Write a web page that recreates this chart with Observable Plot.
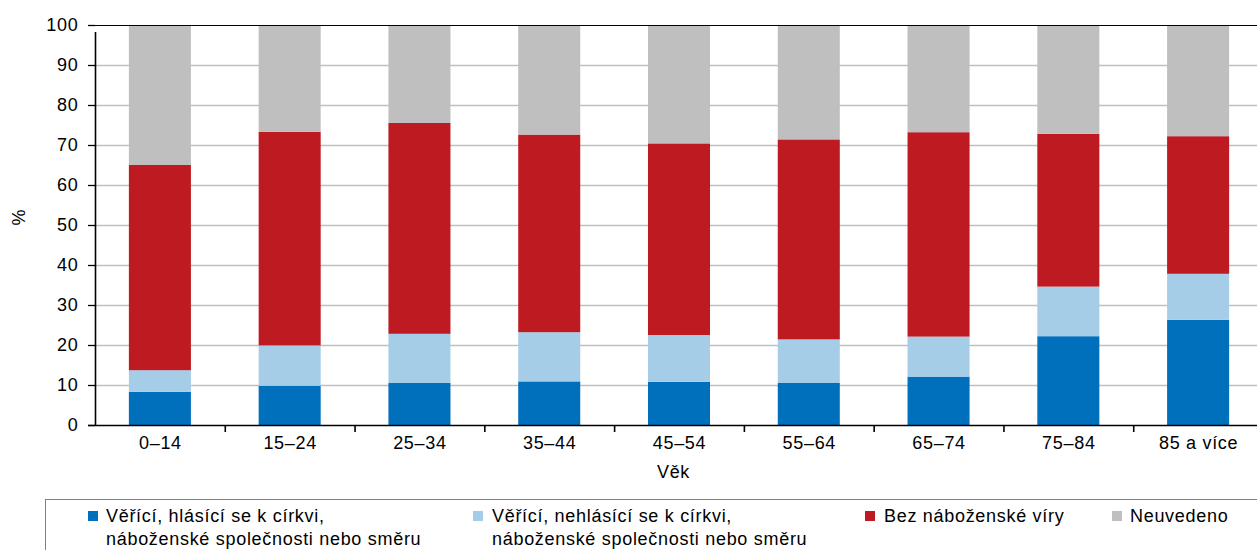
<!DOCTYPE html>
<html>
<head>
<meta charset="utf-8">
<script src="https://cdn.jsdelivr.net/npm/d3@7"></script>
<script src="https://cdn.jsdelivr.net/npm/@observablehq/plot@0.6"></script>
<style>
  html, body { margin: 0; padding: 0; background: #fff; }
  body { width: 1257px; height: 550px; overflow: hidden; font-family: "Liberation Sans", Arial, sans-serif; }
  #chart svg text { letter-spacing: 0.7px; }
  #legend { position: relative; width: 1257px; height: 60px; font-size: 18px; letter-spacing: 0.7px; color: #000; }
  #legend .box { position: absolute; left: 45px; top: 9px; right: -10px; bottom: -10px; border-top: 1px solid #808080; border-left: 1px solid #808080; }
  #legend .sw { position: absolute; top: 21px; width: 10px; height: 10px; }
  #legend .lbl { position: absolute; top: 15px; line-height: 23px; white-space: nowrap; }
</style>
</head>
<body>
<div id="chart"></div>
<div id="legend"><div class="box"></div></div>
<script>
// ---- data ----
const ageGroups = ["0–14", "15–24", "25–34", "35–44", "45–54", "55–64", "65–74", "75–84", "85 a více"];
const seriesNames = [
  "Věřící, hlásící se k církvi,\nnáboženské společnosti nebo směru",
  "Věřící, nehlásící se k církvi,\nnáboženské společnosti nebo směru",
  "Bez náboženské víry",
  "Neuvedeno"
];
const seriesColors = ["#0070bd", "#a6cde8", "#be1a22", "#bfbfbf"];
const believersAffiliated = [8.3, 9.8, 10.5, 10.9, 10.8, 10.5, 12.1, 22.2, 26.3];
const believersUnaffiliated = [5.4, 10.1, 12.3, 12.3, 11.7, 10.9, 10.0, 12.4, 11.5];
const noReligion = [51.3, 53.4, 52.7, 49.4, 47.9, 50.0, 51.1, 38.2, 34.4];
const notStated = [35.0, 26.7, 24.5, 27.4, 29.6, 28.6, 26.8, 27.2, 27.8];
const yTicks = [0, 10, 20, 30, 40, 50, 60, 70, 80, 90, 100];
const xLabel = "Věk";
const yLabel = "%";

const seriesValues = [believersAffiliated, believersUnaffiliated, noReligion, notStated];
const table = [];
seriesValues.forEach((vals, s) => {
  ageGroups.forEach((g, i) => table.push({age: g, series: seriesNames[s], value: vals[i]}));
});

// ---- layout ----
const W = 1257, H = 490;
const mL = 95, mR = 0, mT = 25, mB = 65;
const xRange = [95, 1263];
const padInner = 0.522, padOuter = 0.261;
const step = (xRange[1] - xRange[0]) / (ageGroups.length - padInner + 2 * padOuter);

const chart = Plot.plot({
  width: W,
  height: H,
  marginLeft: mL,
  marginRight: mR,
  marginTop: mT,
  marginBottom: mB,
  style: {fontFamily: "'Liberation Sans', Arial, sans-serif", fontSize: "18px", color: "#000", background: "#fff", overflow: "hidden"},
  x: {type: "band", domain: ageGroups, range: xRange, round: false, paddingInner: padInner, paddingOuter: padOuter, label: null},
  y: {domain: [0, 100], label: null},
  color: {domain: seriesNames, range: seriesColors},
  marks: [
    Plot.ruleY(yTicks.filter(d => d > 0 && d < 100), {stroke: "#c0c0c0", strokeWidth: 1.3}),
    Plot.barY(table, {x: "age", y: "value", fill: "series", order: seriesNames}),
    Plot.ruleY([100], {stroke: "#000", strokeWidth: 1.2}),
    Plot.ruleY([0], {stroke: "#000", strokeWidth: 1.6, insetLeft: -7}),
    Plot.ruleX([ageGroups[0]], {dx: -step / 2, y1: 0, y2: 100, insetBottom: -7, stroke: "#000", strokeWidth: 1.6}),
    Plot.ruleX(ageGroups.slice(1), {dx: -step / 2, y1: 0, y2: 0, insetBottom: -7, stroke: "#000", strokeWidth: 1.6}),
    Plot.axisY({ticks: yTicks, tickSize: 7, tickPadding: 10, tickFormat: d => String(d), label: null, stroke: "#000", strokeWidth: 1.3}),
    Plot.axisX({tickSize: 0, tickPadding: 11, label: null}),
    Plot.text([xLabel], {frameAnchor: "bottom", dy: 52, dx: -3, text: d => d, fontSize: 18}),
    Plot.text([yLabel], {frameAnchor: "left", dx: -76, rotate: -90, text: d => d, fontSize: 18})
  ]
});
document.getElementById("chart").appendChild(chart);

// ---- legend ----
const legend = document.getElementById("legend");
const swatchX = [88, 473, 865, 1112];
const labelX = [106, 492, 884, 1130];
seriesNames.forEach((name, i) => {
  const sw = document.createElement("div");
  sw.className = "sw";
  sw.style.left = swatchX[i] + "px";
  sw.style.background = seriesColors[i];
  legend.appendChild(sw);
  const lb = document.createElement("div");
  lb.className = "lbl";
  lb.style.left = labelX[i] + "px";
  name.split("\n").forEach((line, j) => {
    if (j) lb.appendChild(document.createElement("br"));
    lb.appendChild(document.createTextNode(line));
  });
  legend.appendChild(lb);
});
</script>
</body>
</html>
